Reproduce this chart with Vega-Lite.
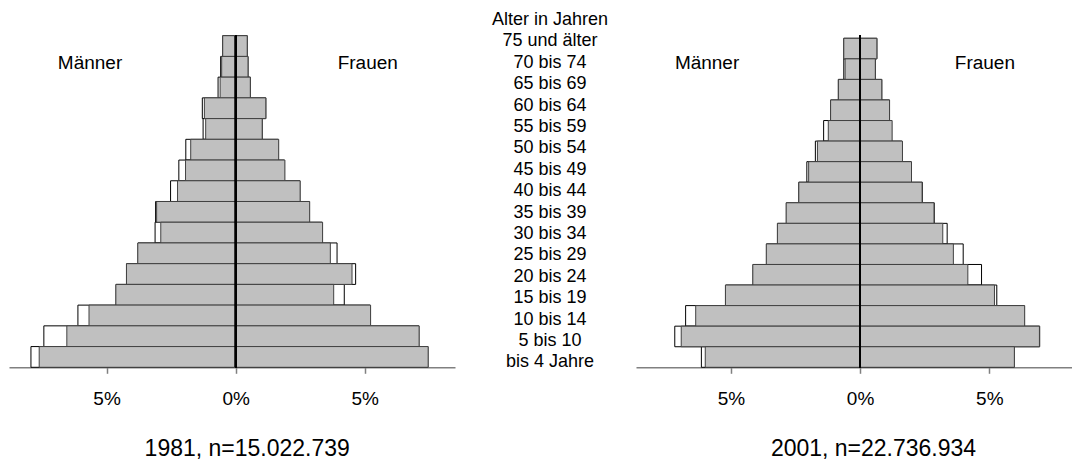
{
  "$schema": "https://vega.github.io/schema/vega-lite/v6.json",
  "padding": {"left": 9, "top": 10.7, "right": 0, "bottom": 0},
  "background": "white",
  "spacing": 0,
  "bounds": "flush",
  "config": {
    "view": {"stroke": null},
    "font": "Liberation Sans",
    "axis": {
      "grid": false,
      "labelFont": "Liberation Sans",
      "labelFontSize": 19,
      "labelColor": "black",
      "labelPadding": 16,
      "tickSize": 6,
      "tickColor": "#808080",
      "tickWidth": 1.5,
      "domainColor": "#808080",
      "domainWidth": 1.5,
      "titleFont": "Liberation Sans",
      "titleFontSize": 23,
      "titleFontWeight": "normal",
      "titleColor": "black",
      "titleBaseline": "alphabetic",
      "titleAlign": "center",
      "titleY": 88
    }
  },
  "datasets": {
    "d1981": [
      {"age": "75 und älter", "sex": "Männer", "pct": -0.50, "ref": -0.50},
      {"age": "70 bis 74", "sex": "Männer", "pct": -0.54, "ref": -0.58},
      {"age": "65 bis 69", "sex": "Männer", "pct": -0.60, "ref": -0.68},
      {"age": "60 bis 64", "sex": "Männer", "pct": -1.21, "ref": -1.29},
      {"age": "55 bis 59", "sex": "Männer", "pct": -1.16, "ref": -1.26},
      {"age": "50 bis 54", "sex": "Männer", "pct": -1.74, "ref": -1.93},
      {"age": "45 bis 49", "sex": "Männer", "pct": -1.94, "ref": -2.20},
      {"age": "40 bis 44", "sex": "Männer", "pct": -2.25, "ref": -2.52},
      {"age": "35 bis 39", "sex": "Männer", "pct": -3.06, "ref": -3.10},
      {"age": "30 bis 34", "sex": "Männer", "pct": -2.90, "ref": -3.12},
      {"age": "25 bis 29", "sex": "Männer", "pct": -3.79, "ref": -3.78},
      {"age": "20 bis 24", "sex": "Männer", "pct": -4.23, "ref": -4.22},
      {"age": "15 bis 19", "sex": "Männer", "pct": -4.64, "ref": -4.63},
      {"age": "10 bis 14", "sex": "Männer", "pct": -5.68, "ref": -6.11},
      {"age": "5 bis 10", "sex": "Männer", "pct": -6.54, "ref": -7.43},
      {"age": "bis 4 Jahre", "sex": "Männer", "pct": -7.61, "ref": -7.93},
      {"age": "75 und älter", "sex": "Frauen", "pct": 0.45, "ref": 0.45},
      {"age": "70 bis 74", "sex": "Frauen", "pct": 0.48, "ref": 0.48},
      {"age": "65 bis 69", "sex": "Frauen", "pct": 0.57, "ref": 0.57},
      {"age": "60 bis 64", "sex": "Frauen", "pct": 1.17, "ref": 1.17},
      {"age": "55 bis 59", "sex": "Frauen", "pct": 1.03, "ref": 1.03},
      {"age": "50 bis 54", "sex": "Frauen", "pct": 1.67, "ref": 1.65},
      {"age": "45 bis 49", "sex": "Frauen", "pct": 1.91, "ref": 1.89},
      {"age": "40 bis 44", "sex": "Frauen", "pct": 2.50, "ref": 2.49},
      {"age": "35 bis 39", "sex": "Frauen", "pct": 2.87, "ref": 2.85},
      {"age": "30 bis 34", "sex": "Frauen", "pct": 3.37, "ref": 3.35},
      {"age": "25 bis 29", "sex": "Frauen", "pct": 3.67, "ref": 3.93},
      {"age": "20 bis 24", "sex": "Frauen", "pct": 4.51, "ref": 4.65},
      {"age": "15 bis 19", "sex": "Frauen", "pct": 3.80, "ref": 4.21},
      {"age": "10 bis 14", "sex": "Frauen", "pct": 5.23, "ref": 5.21},
      {"age": "5 bis 10", "sex": "Frauen", "pct": 7.11, "ref": 7.10},
      {"age": "bis 4 Jahre", "sex": "Frauen", "pct": 7.46, "ref": 7.45}
    ],
    "d2001": [
      {"age": "75 und älter", "sex": "Männer", "pct": -0.63, "ref": -0.63},
      {"age": "70 bis 74", "sex": "Männer", "pct": -0.58, "ref": -0.63},
      {"age": "65 bis 69", "sex": "Männer", "pct": -0.84, "ref": -0.84},
      {"age": "60 bis 64", "sex": "Männer", "pct": -1.14, "ref": -1.14},
      {"age": "55 bis 59", "sex": "Männer", "pct": -1.23, "ref": -1.41},
      {"age": "50 bis 54", "sex": "Männer", "pct": -1.65, "ref": -1.73},
      {"age": "45 bis 49", "sex": "Männer", "pct": -1.99, "ref": -2.06},
      {"age": "40 bis 44", "sex": "Männer", "pct": -2.37, "ref": -2.37},
      {"age": "35 bis 39", "sex": "Männer", "pct": -2.86, "ref": -2.85},
      {"age": "30 bis 34", "sex": "Männer", "pct": -3.20, "ref": -3.19},
      {"age": "25 bis 29", "sex": "Männer", "pct": -3.63, "ref": -3.62},
      {"age": "20 bis 24", "sex": "Männer", "pct": -4.15, "ref": -4.14},
      {"age": "15 bis 19", "sex": "Männer", "pct": -5.21, "ref": -5.20},
      {"age": "10 bis 14", "sex": "Männer", "pct": -6.36, "ref": -6.75},
      {"age": "5 bis 10", "sex": "Männer", "pct": -6.92, "ref": -7.17},
      {"age": "bis 4 Jahre", "sex": "Männer", "pct": -5.99, "ref": -6.14},
      {"age": "75 und älter", "sex": "Frauen", "pct": 0.65, "ref": 0.65},
      {"age": "70 bis 74", "sex": "Frauen", "pct": 0.59, "ref": 0.59},
      {"age": "65 bis 69", "sex": "Frauen", "pct": 0.84, "ref": 0.84},
      {"age": "60 bis 64", "sex": "Frauen", "pct": 1.14, "ref": 1.14},
      {"age": "55 bis 59", "sex": "Frauen", "pct": 1.24, "ref": 1.22},
      {"age": "50 bis 54", "sex": "Frauen", "pct": 1.64, "ref": 1.62},
      {"age": "45 bis 49", "sex": "Frauen", "pct": 1.99, "ref": 1.97},
      {"age": "40 bis 44", "sex": "Frauen", "pct": 2.40, "ref": 2.41},
      {"age": "35 bis 39", "sex": "Frauen", "pct": 2.86, "ref": 2.87},
      {"age": "30 bis 34", "sex": "Frauen", "pct": 3.20, "ref": 3.37},
      {"age": "25 bis 29", "sex": "Frauen", "pct": 3.61, "ref": 3.99},
      {"age": "20 bis 24", "sex": "Frauen", "pct": 4.17, "ref": 4.70},
      {"age": "15 bis 19", "sex": "Frauen", "pct": 5.20, "ref": 5.29},
      {"age": "10 bis 14", "sex": "Frauen", "pct": 6.37, "ref": 6.35},
      {"age": "5 bis 10", "sex": "Frauen", "pct": 6.94, "ref": 6.95},
      {"age": "bis 4 Jahre", "sex": "Frauen", "pct": 5.97, "ref": 5.96}
    ],
    "labels": [
      {"label": "Alter in Jahren"},
      {"label": "75 und älter"},
      {"label": "70 bis 74"},
      {"label": "65 bis 69"},
      {"label": "60 bis 64"},
      {"label": "55 bis 59"},
      {"label": "50 bis 54"},
      {"label": "45 bis 49"},
      {"label": "40 bis 44"},
      {"label": "35 bis 39"},
      {"label": "30 bis 34"},
      {"label": "25 bis 29"},
      {"label": "20 bis 24"},
      {"label": "15 bis 19"},
      {"label": "10 bis 14"},
      {"label": "5 bis 10"},
      {"label": "bis 4 Jahre"}
    ]
  },
  "hconcat": [
    {
      "width": 446,
      "height": 331.6,
      "data": {"name": "d1981"},
      "layer": [
        {
          "mark": {"type": "bar", "fill": "white", "stroke": "black", "strokeWidth": 1},
          "encoding": {
            "y": {
              "field": "age", "type": "nominal", "axis": null,
              "scale": {"type": "band", "paddingInner": 0, "paddingOuter": 0,
                "domain": ["75 und älter", "70 bis 74", "65 bis 69", "60 bis 64", "55 bis 59", "50 bis 54", "45 bis 49", "40 bis 44", "35 bis 39", "30 bis 34", "25 bis 29", "20 bis 24", "15 bis 19", "10 bis 14", "5 bis 10", "bis 4 Jahre"]}
            },
            "x": {
              "field": "ref", "type": "quantitative",
              "scale": {"domain": [-8.78, 8.5], "nice": false},
              "axis": {"values": [-5, 0, 5], "labelExpr": "abs(datum.value) + '%'", "title": "1981, n=15.022.739", "titleX": 237.7}
            }
          }
        },
        {
          "mark": {"type": "bar", "fill": "#c0c0c0", "stroke": "#404040", "strokeWidth": 1},
          "encoding": {
            "y": {"field": "age", "type": "nominal"},
            "x": {"field": "pct", "type": "quantitative"}
          }
        },
        {
          "mark": {"type": "rule", "color": "black", "strokeWidth": 1.3},
          "encoding": {"x": {"datum": 0}}
        },
        {
          "data": {"values": [{}]},
          "mark": {"type": "text", "fontSize": 19, "baseline": "middle", "dy": -3.7, "color": "black"},
          "encoding": {"x": {"datum": -5.64}, "y": {"datum": "70 bis 74", "type": "nominal"}, "text": {"value": "Männer"}}
        },
        {
          "data": {"values": [{}]},
          "mark": {"type": "text", "fontSize": 19, "baseline": "middle", "dy": -3.7, "color": "black"},
          "encoding": {"x": {"datum": 5.12}, "y": {"datum": "70 bis 74", "type": "nominal"}, "text": {"value": "Frauen"}}
        }
      ]
    },
    {
      "width": 181,
      "height": 331.6,
      "data": {"name": "labels"},
      "mark": {"type": "text", "fontSize": 18, "baseline": "middle", "dx": 4.5, "color": "black"},
      "encoding": {
        "y": {
          "field": "label", "type": "nominal", "axis": null,
          "scale": {"type": "point", "padding": 0, "range": [-15.8, 326.7],
            "domain": ["Alter in Jahren", "75 und älter", "70 bis 74", "65 bis 69", "60 bis 64", "55 bis 59", "50 bis 54", "45 bis 49", "40 bis 44", "35 bis 39", "30 bis 34", "25 bis 29", "20 bis 24", "15 bis 19", "10 bis 14", "5 bis 10", "bis 4 Jahre"]}
        },
        "text": {"field": "label"}
      }
    },
    {
      "width": 436,
      "height": 331.6,
      "data": {"name": "d2001"},
      "layer": [
        {
          "mark": {"type": "bar", "fill": "white", "stroke": "black", "strokeWidth": 1},
          "encoding": {
            "y": {
              "field": "age", "type": "nominal", "axis": null,
              "scale": {"type": "band", "paddingInner": 0, "paddingOuter": 0.063, "align": 1,
                "domain": ["75 und älter", "70 bis 74", "65 bis 69", "60 bis 64", "55 bis 59", "50 bis 54", "45 bis 49", "40 bis 44", "35 bis 39", "30 bis 34", "25 bis 29", "20 bis 24", "15 bis 19", "10 bis 14", "5 bis 10", "bis 4 Jahre"]}
            },
            "x": {
              "field": "ref", "type": "quantitative",
              "scale": {"domain": [-8.67, 8.2], "nice": false},
              "axis": {"values": [-5, 0, 5], "labelExpr": "abs(datum.value) + '%'", "title": "2001, n=22.736.934", "titleX": 237}
            }
          }
        },
        {
          "mark": {"type": "bar", "fill": "#c0c0c0", "stroke": "#404040", "strokeWidth": 1},
          "encoding": {
            "y": {"field": "age", "type": "nominal"},
            "x": {"field": "pct", "type": "quantitative"}
          }
        },
        {
          "mark": {"type": "rule", "color": "black", "strokeWidth": 1.3},
          "encoding": {"x": {"datum": 0}}
        },
        {
          "data": {"values": [{}]},
          "mark": {"type": "text", "fontSize": 19, "baseline": "middle", "dy": -6, "color": "black"},
          "encoding": {"x": {"datum": -5.92}, "y": {"datum": "70 bis 74", "type": "nominal"}, "text": {"value": "Männer"}}
        },
        {
          "data": {"values": [{}]},
          "mark": {"type": "text", "fontSize": 19, "baseline": "middle", "dy": -6, "color": "black"},
          "encoding": {"x": {"datum": 4.83}, "y": {"datum": "70 bis 74", "type": "nominal"}, "text": {"value": "Frauen"}}
        }
      ]
    }
  ]
}
